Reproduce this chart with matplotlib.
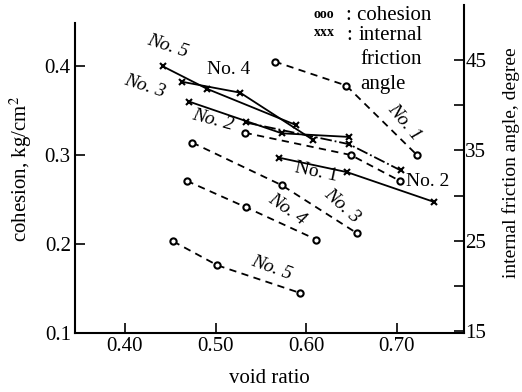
import matplotlib
matplotlib.use("Agg")
from matplotlib import pyplot as plt

plt.rcParams['font.family'] = ['Liberation Serif', 'DejaVu Serif']
plt.rcParams['mathtext.fontset'] = 'stix'

# void ratio / cohesion (kg/cm2) for samples No.1 .. No.5
coh_void = [
    [0.565, 0.644, 0.722],
    [0.532, 0.649, 0.703],
    [0.474, 0.573, 0.656],
    [0.468, 0.534, 0.611],
    [0.453, 0.502, 0.593],
]
coh_vals = [
    [0.405, 0.378, 0.300],
    [0.325, 0.300, 0.271],
    [0.314, 0.266, 0.212],
    [0.271, 0.241, 0.205],
    [0.203, 0.176, 0.145],
]

# void ratio / internal friction angle (degree)
phi_void = [
    [0.570, 0.645, 0.741],
    [0.533, 0.647, 0.704],
    [0.471, 0.573, 0.647],
    [0.463, 0.527, 0.607],
    [0.442, 0.491, 0.589],
]
phi_vals = [
    [34.2, 32.6, 29.3],
    [38.1, 35.7, 32.8],
    [40.4, 36.9, 36.5],
    [42.6, 41.4, 36.2],
    [44.3, 41.8, 37.8],
]

xticks = [0.40, 0.50, 0.60, 0.70]
xticklabels = ["0.40", "0.50", "0.60", "0.70"]
coh_ticks = [0.1, 0.2, 0.3, 0.4]
phi_ticks = [15, 25, 35, 45]
phi_minor = [20, 30, 40]

W, H = 522, 392
fig = plt.figure(figsize=(W / 100, H / 100), dpi=100)
ax = fig.add_axes([75 / W, 1 - 333 / H, (464 - 75) / W, (333 - 5) / H])
ax2 = ax.twinx()

ax.set_xlim(0.3449, 0.7739)
ax.set_ylim(0.1, 0.4685)
ax2.set_ylim(14.8, 51.1)

# cohesion: open circles, dashed
for xs, ys in zip(coh_void, coh_vals):
    ax.plot(xs, ys, color='black', lw=1.3, dashes=(4, 3), marker='o',
            ms=4.5, mfc='white', mec='black', mew=1.5)

# friction angle: crosses, solid (No.2 dash-dot)
for i, (xs, ys) in enumerate(zip(phi_void, phi_vals)):
    ls = '-.' if i == 1 else '-'
    ax2.plot(xs, ys, color='black', lw=1.3, ls=ls, marker='x',
             ms=4.5, mew=1.5)

for a in (ax, ax2):
    a.spines['top'].set_visible(False)
ax.spines['left'].set_bounds(0.1, 0.448)
ax.spines['right'].set_visible(False)
ax2.spines['left'].set_visible(False)
ax2.spines['bottom'].set_visible(False)
for s in ('left', 'bottom'):
    ax.spines[s].set_linewidth(1.5)
ax2.spines['right'].set_linewidth(1.5)

ax.set_xticks(xticks)
ax.set_xticklabels(xticklabels)
ax.set_yticks(coh_ticks)
ax.set_yticklabels(["0.1", "0.2", "0.3", "0.4"])
ax2.set_yticks(phi_ticks)
ax2.set_yticks(phi_minor, minor=True)
ax.tick_params(direction='in', length=7, width=1.2, labelsize=15, pad=3)
ax2.tick_params(which='both', direction='in', length=7, width=1.2,
                labelsize=15, pad=1)

ax.set_xlabel("void ratio", fontsize=15, labelpad=9)
ax.set_ylabel("cohesion, kg/cm$^2$", fontsize=15, labelpad=8)
ax2.set_ylabel("internal friction angle, degree", fontsize=14)
ax2.yaxis.set_label_coords(1.097, 0.52)

def px(x, y):
    return x / W, 1 - y / H

labels = [
    ("No. 5", 168, 46, -18, 'italic'),
    ("No. 4", 229, 69, 0, 'normal'),
    ("No. 3", 145, 86, -18, 'italic'),
    ("No. 2", 213, 120, -15, 'italic'),
    ("No. 1", 404, 122, -50, 'italic'),
    ("No. 1", 316, 172, -12, 'normal'),
    ("No. 2", 428, 182, 0, 'normal'),
    ("No. 3", 342, 206, -42, 'italic'),
    ("No. 4", 287, 209, -35, 'italic'),
    ("No. 5", 272, 268, -20, 'italic'),
]
for t, x, y, r, st in labels:
    fig.text(*px(x, y), t, fontsize=14, rotation=r, style=st,
             ha='center', va='center', rotation_mode='anchor')

fig.text(*px(314, 14), "ooo", fontsize=10, weight='bold', va='center')
fig.text(*px(314, 33), "xxx", fontsize=10, weight='bold', va='center')
fig.text(*px(346, 15), ": cohesion", fontsize=15, va='center')
fig.text(*px(346, 36), ":", fontsize=15, va='center')
fig.text(*px(359, 36), "internal", fontsize=15, va='center')
fig.text(*px(360, 60), "friction", fontsize=15, va='center')
fig.text(*px(360, 84), "angle", fontsize=15, va='center')

fig.savefig("out.png", dpi=100)
